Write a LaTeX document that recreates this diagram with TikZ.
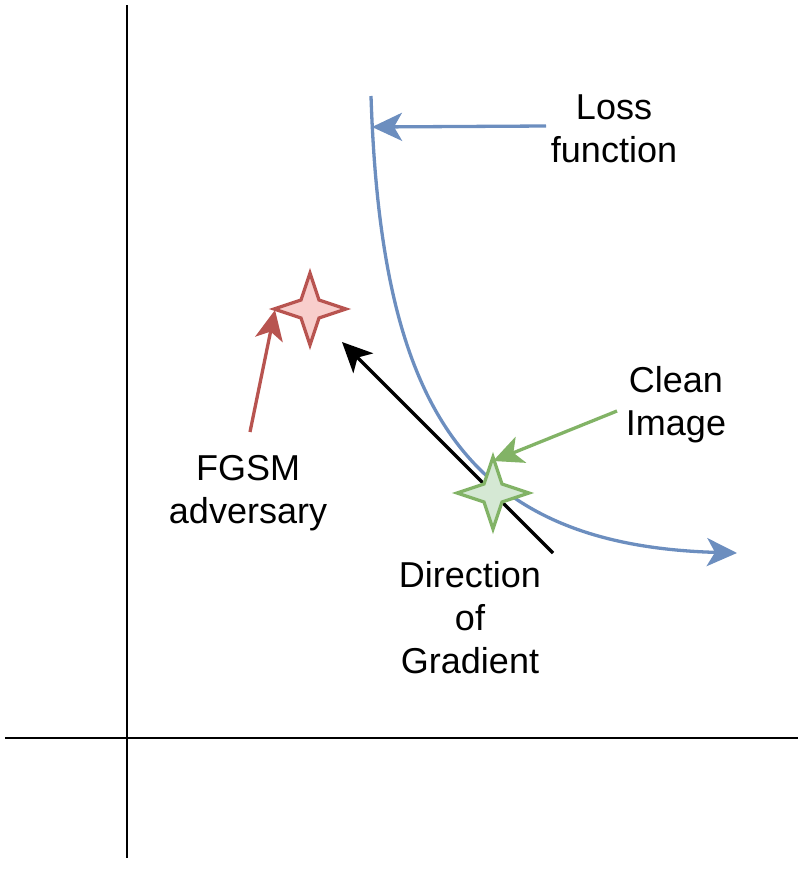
\documentclass[tikz,border=0pt]{standalone}
\usepackage{fontspec}
\setmainfont{Liberation Sans}
\usetikzlibrary{arrows.meta}
\definecolor{lossblue}{HTML}{6C8EBF}
\definecolor{advred}{HTML}{B85450}
\definecolor{advredfill}{HTML}{F8CECC}
\definecolor{cleangreen}{HTML}{82B366}
\definecolor{cleangreenfill}{HTML}{D5E8D4}
\tikzset{
  lbl/.style={align=center, font=\fontsize{36}{43}\selectfont, inner sep=0pt},
  tipstyle/.style={-{Stealth[length=30pt,width=28pt,inset=8pt]}},
  axis/.style={line width=2.5pt, black},
  conn/.style={line width=3.3pt, tipstyle},
}
\newcommand{\fourstar}[5]{% center x, y, draw, fill, name
  \draw[#3, fill=#4, line width=3.3pt, line join=miter]
    (#1+36,#2) -- (#1+9,#2+9) -- (#1,#2+36) -- (#1-9,#2+9) -- (#1-36,#2)
    -- (#1-9,#2-9) -- (#1,#2-36) -- (#1+9,#2-9) -- cycle;
  \coordinate (#5) at (#1,#2);
}
\begin{document}
\begin{tikzpicture}[x=1pt,y=-1pt]
\useasboundingbox (0,0) rectangle (807,870);
% axes
\coordinate (yt) at (127,5); \coordinate (yb) at (127,858);
\coordinate (xl) at (5,738); \coordinate (xr) at (798,738);
\draw[axis] (yt) -- (yb);
\draw[axis] (xl) -- (xr);
% loss curve
\coordinate (c0) at (371,96);
\coordinate (c3) at (737,553);
\draw[lossblue, conn] (c0) .. controls (381,400) and (460,545) .. (c3);
% labels
\node[lbl] (loss) at (614,129) {Loss\\function};
\node[lbl] (clean) at (676,405) {Clean\\Image};
\node[lbl] (fgsm) at (248,493) {FGSM\\adversary};
\node[lbl] (dir) at (470,618) {Direction\\of\\Gradient};
% loss arrow
\coordinate (la) at (546,126);
\coordinate (lb) at (372,127);
\draw[lossblue, conn] (la) -- (lb);
% gradient arrow
\coordinate (ga) at (553,553);
\coordinate (gb) at (342,342);
\draw[black, conn] (ga) -- (gb);
% stars
\fourstar{310}{309}{advred}{advredfill}{redstar}
\fourstar{493}{493}{cleangreen}{cleangreenfill}{greenstar}
% red arrow
\coordinate (ra) at (250,432);
\coordinate (rb) at (275,310);
\draw[advred, conn] (ra) -- (rb);
% green arrow
\coordinate (gra) at (617,411);
\coordinate (grb) at (493,461);
\draw[cleangreen, conn] (gra) -- (grb);
\end{tikzpicture}
\end{document}
